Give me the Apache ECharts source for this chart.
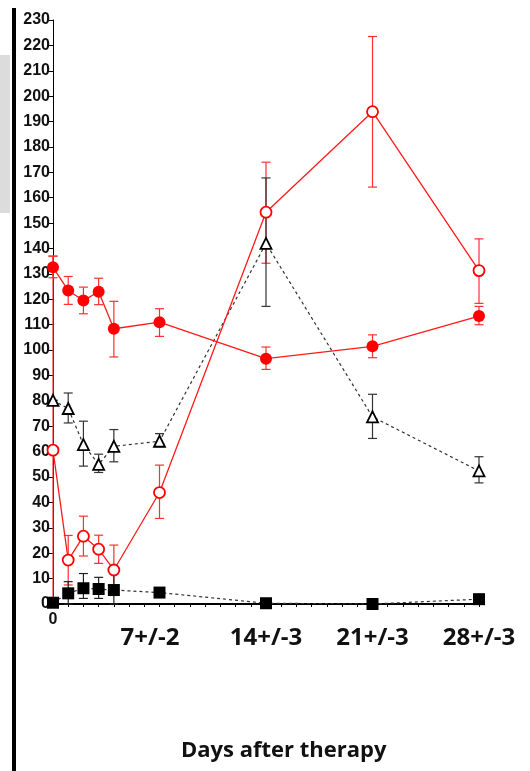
<!DOCTYPE html>
<html>
<head>
<meta charset="utf-8">
<script src="https://cdn.jsdelivr.net/npm/echarts@6/dist/echarts.min.js"></script>
<style>
  html, body { margin: 0; padding: 0; background: #fff; }
  #main { width: 530px; height: 771px; }
</style>
</head>
<body>
<div id="main"></div>
<script>
// 天数 (x)
var days = [0, 1, 2, 3, 4, 7, 14, 21, 28];

// 实心红圆
var redFilled = [132.6, 123.5, 119.5, 123, 108.4, 111, 96.6, 101.5, 113.4];
var redFilledHi = [137, 129, 124.8, 128.3, 119.2, 116.3, 101.2, 106, 117.2];
var redFilledLo = [128.5, 118, 114.3, 117.9, 97.3, 105.4, 92.4, 97, 110];

// 空心红圆
var redOpen = [60.6, 17.3, 26.7, 21.6, 13.4, 43.9, 154.3, 193.9, 131.3];
var redOpenHi = [137, 27, 34.6, 27.1, 23.2, 54.7, 174, 223.5, 143.8];
var redOpenLo = [0, 7.5, 18.9, 16, 3.5, 33.7, 134.2, 164.2, 118.4];

// 空心三角
var triOpen = [80.2, 77, 62.8, 55, 62.1, 64.1, 142, 73.7, 52.4];
var triOpenHi = [80.2, 83.1, 72, 59, 68.7, 67.1, 167.8, 82.6, 58];
var triOpenLo = [80.2, 71.3, 54.3, 51.8, 56, 62, 117.2, 65.2, 47.7];

// 实心方块
var sqFilled = [0.5, 4.2, 6.2, 5.9, 5.5, 4.5, 0.3, 0, 1.9];
var sqFilledHi = [0.5, 8.8, 12, 10.5, 12, 4.5, 0.3, 0, 1.9];
var sqFilledLo = [0.5, 0, 2.2, 2.2, 0, 4.5, 0.3, 0, 1.9];

// 坐标轴标签
var bigLabels = { 7: '7+/-2', 14: '14+/-3', 21: '21+/-3', 28: '28+/-3' };

function pts(vals) {
    return days.map(function (d, i) { return [d, vals[i]]; });
}
function errData(lo, hi) {
    return days.map(function (d, i) { return [d, lo[i], hi[i]]; });
}

// 误差线
function errSeries(lo, hi, color) {
    return {
        type: 'custom',
        data: errData(lo, hi),
        silent: true,
        z: 1,
        renderItem: function (params, api) {
            var a = api.coord([api.value(0), api.value(1)]);
            var b = api.coord([api.value(0), api.value(2)]);
            var w = 4.5;
            var st = { stroke: color, lineWidth: 1.2 };
            return {
                type: 'group',
                children: [
                    { type: 'line', shape: { x1: a[0], y1: a[1], x2: b[0], y2: b[1] }, style: st },
                    { type: 'line', shape: { x1: a[0] - w, y1: a[1], x2: a[0] + w, y2: a[1] }, style: st },
                    { type: 'line', shape: { x1: b[0] - w, y1: b[1], x2: b[0] + w, y2: b[1] }, style: st }
                ]
            };
        }
    };
}

var myChart = echarts.init(document.getElementById('main'), null, { renderer: 'canvas' });

var option = {
    animation: false,
    backgroundColor: '#fff',
    title: {
        text: 'Days after therapy',
        left: 176,
        top: 735,
        textStyle: { fontFamily: 'Open Sans', fontWeight: 'bold', fontSize: 22, color: '#111' }
    },
    grid: { left: 53, right: 51, top: 20, bottom: 167 },
    xAxis: [
        {
            type: 'value',
            min: 0,
            max: 28,
            interval: 1,
            splitLine: { show: false },
            axisLine: { lineStyle: { color: '#000', width: 2 } },
            axisTick: { length: 3, lineStyle: { color: '#000', width: 1 } },
            axisLabel: {
                margin: 8,
                fontFamily: 'Liberation Sans',
                fontWeight: 'bold',
                fontSize: 16,
                color: '#111',
                formatter: function (v) { return v === 0 ? '0' : ''; }
            }
        },
        {
            type: 'value',
            position: 'bottom',
            min: 0,
            max: 28,
            interval: 7,
            splitLine: { show: false },
            axisLine: { show: false },
            axisTick: { show: false },
            axisLabel: {
                margin: 22,
                fontFamily: 'Open Sans',
                fontWeight: 'bold',
                fontSize: 24,
                color: '#111',
                formatter: function (v) {
                    if (v === 7) return '{s|' + bigLabels[v] + '}';
                    return bigLabels[v] || '';
                },
                rich: {
                    s: { fontFamily: 'Open Sans', fontWeight: 'bold', fontSize: 24, color: '#111', padding: [0, 19, 0, 0] }
                }
            }
        }
    ],
    yAxis: {
        type: 'value',
        min: 0,
        max: 230,
        interval: 10,
        splitLine: { show: false },
        axisLine: { show: true, lineStyle: { color: '#000', width: 1 } },
        axisTick: { show: true, length: 4, lineStyle: { color: '#000' } },
        axisLabel: {
            margin: 3,
            fontFamily: 'Liberation Sans',
            fontWeight: 'bold',
            fontSize: 16,
            color: '#111'
        }
    },
    graphic: [
        { type: 'rect', shape: { x: 0, y: 55, width: 10, height: 158 }, style: { fill: '#dcdcdc' } },
        { type: 'rect', shape: { x: 12, y: 8, width: 4, height: 763 }, style: { fill: '#000' } }
    ],
    series: [
        errSeries(redOpenLo, redOpenHi, '#ff3030'),
        errSeries(redFilledLo, redFilledHi, '#ff3030'),
        errSeries(triOpenLo, triOpenHi, '#333'),
        errSeries(sqFilledLo, sqFilledHi, '#222'),
        {
            name: 'square',
            type: 'line',
            data: pts(sqFilled),
            symbol: 'rect',
            symbolSize: 12,
            z: 3,
            lineStyle: { color: '#333', width: 1.2, type: [3, 3] },
            itemStyle: { color: '#000', borderColor: '#000', borderWidth: 0 }
        },
        {
            name: 'triangle',
            type: 'line',
            data: pts(triOpen),
            symbol: 'triangle',
            symbolSize: 11,
            z: 3,
            lineStyle: { color: '#333', width: 1.2, type: [3, 3] },
            itemStyle: { color: '#fff', borderColor: '#000', borderWidth: 1.8 }
        },
        {
            name: 'redOpen',
            type: 'line',
            data: pts(redOpen),
            symbol: 'circle',
            symbolSize: 11,
            z: 4,
            lineStyle: { color: '#ff1a1a', width: 1.3 },
            itemStyle: { color: '#fff', borderColor: '#ff0000', borderWidth: 1.8 }
        },
        {
            name: 'redFilled',
            type: 'line',
            data: pts(redFilled),
            symbol: 'circle',
            symbolSize: 12,
            z: 4,
            lineStyle: { color: '#ff1a1a', width: 1.3 },
            itemStyle: { color: '#ff0000', borderWidth: 0 }
        }
    ]
};
myChart.setOption(option);
</script>
</body>
</html>
